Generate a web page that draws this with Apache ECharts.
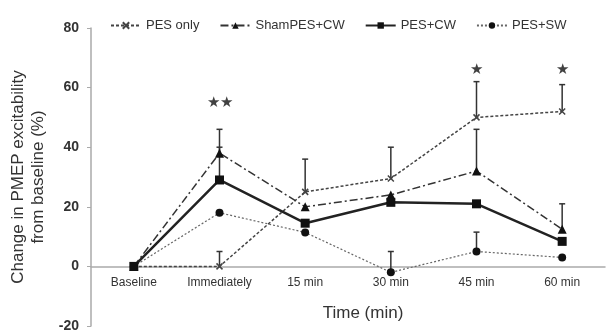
<!DOCTYPE html>
<html><head><meta charset="utf-8">
<script src="https://cdn.jsdelivr.net/npm/echarts@6/dist/echarts.min.js"></script>
<style>html,body{margin:0;padding:0;background:#fff}#c{width:607px;height:331px}</style>
</head><body><div id="c"></div>
<script>
const categories = ['Baseline','Immediately','15 min','30 min','45 min','60 min'];
const pesOnly     = [0, 0, 25, 29.5, 50, 52];
const shamPesCw   = [0, 38, 20, 24, 32, 12.5];
const pesCw       = [0, 29, 14.5, 21.5, 21, 8.4];
const pesSw       = [0, 18, 11.4, -2, 5, 3];
const pesOnlyErr  = [null, 5, 36, 40, 62, 61];
const shamErr     = [null, 46, null, null, 46, 21];
const pesCwErr    = [null, 40, null, null, null, null];
const pesSwErr    = [null, null, null, 5, 11.5, null];
const stars       = [[1, 55, '★★'], [4, 66, '★'], [5, 66, '★']];
const yTicks      = {min: -20, max: 80, interval: 20};

const font = 'Liberation Sans, Arial, sans-serif';
const xPath = 'path://M0,0L10,10M10,0L0,10';

function errSeries(vals, errs, color){
  const data = [];
  errs.forEach((e,i)=>{ if(e!==null) data.push([i, vals[i], e]); });
  return {
    type:'custom', silent:true, z:1, data:data,
    renderItem:function(params, api){
      const p0 = api.coord([api.value(0), api.value(1)]);
      const p1 = api.coord([api.value(0), api.value(2)]);
      return {type:'group', children:[
        {type:'line', shape:{x1:p0[0],y1:p0[1],x2:p1[0],y2:p1[1]}, style:{stroke:color, lineWidth:1.5}},
        {type:'line', shape:{x1:p1[0]-3,y1:p1[1],x2:p1[0]+3,y2:p1[1]}, style:{stroke:color, lineWidth:1.5}}
      ]};
    }
  };
}

const chart = echarts.init(document.getElementById('c'));
chart.setOption({
  animation:false,
  textStyle:{fontFamily:font},
  grid:{left:91, right:2, top:28, bottom:5, outerBoundsMode:'none', containLabel:false},
  legend:{
    top:14, left:105, itemGap:20, itemWidth:30, itemHeight:8,
    textStyle:{fontFamily:font, fontSize:13, color:'#333'},
    data:['PES only','ShamPES+CW','PES+CW','PES+SW']
  },
  xAxis:{
    type:'category', data:categories, boundaryGap:true,
    axisLine:{onZero:true, lineStyle:{color:'#aaa', width:1.5}},
    axisTick:{show:false},
    axisLabel:{color:'#333', fontSize:12, margin:-49, fontFamily:font},
    name:'Time (min)', nameLocation:'middle', nameGap:-21,
    nameTextStyle:{fontSize:17, color:'#333', fontFamily:font, padding:[0,0,0,30]}
  },
  yAxis:{
    type:'value', min:yTicks.min, max:yTicks.max, interval:yTicks.interval,
    splitLine:{show:false},
    axisLine:{show:true, lineStyle:{color:'#aaa', width:1.5}},
    axisTick:{show:true, length:4, inside:false, lineStyle:{color:'#aaa'}},
    axisLabel:{color:'#333', fontSize:14, fontWeight:'bold', margin:12, fontFamily:font},
    name:'Change in PMEP excitability\nfrom baseline (%)', nameLocation:'middle', nameGap:36,
    nameTextStyle:{fontSize:17, color:'#333', lineHeight:20, fontFamily:font}
  },
  series:[
    errSeries(pesOnly, pesOnlyErr, '#333'),
    errSeries(shamPesCw, shamErr, '#333'),
    errSeries(pesCw, pesCwErr, '#333'),
    errSeries(pesSw, pesSwErr, '#333'),
    {name:'PES only', type:'line', data:pesOnly, symbol:xPath, symbolSize:6, z:3,
     lineStyle:{color:'#444', width:1.5, type:[3,2]}, itemStyle:{color:'#fff', borderColor:'#444', borderWidth:1.5}},
    {name:'ShamPES+CW', type:'line', data:shamPesCw, symbol:'triangle', symbolSize:9, z:3,
     lineStyle:{color:'#333', width:1.5, type:[8,3,2,3]}, itemStyle:{color:'#111'}},
    {name:'PES+CW', type:'line', data:pesCw, symbol:'rect', symbolSize:9, z:4,
     lineStyle:{color:'#222', width:2.5}, itemStyle:{color:'#111'}},
    {name:'PES+SW', type:'line', data:pesSw, symbol:'circle', symbolSize:8, z:3,
     lineStyle:{color:'#666', width:1.2, type:[2,2]}, itemStyle:{color:'#111'}},
    {type:'scatter', data:stars, symbolSize:0, silent:true,
     label:{show:true, position:'inside', formatter:p=>p.value[2], fontSize:15, color:'#111'}}
  ]
});
</script></body></html>
